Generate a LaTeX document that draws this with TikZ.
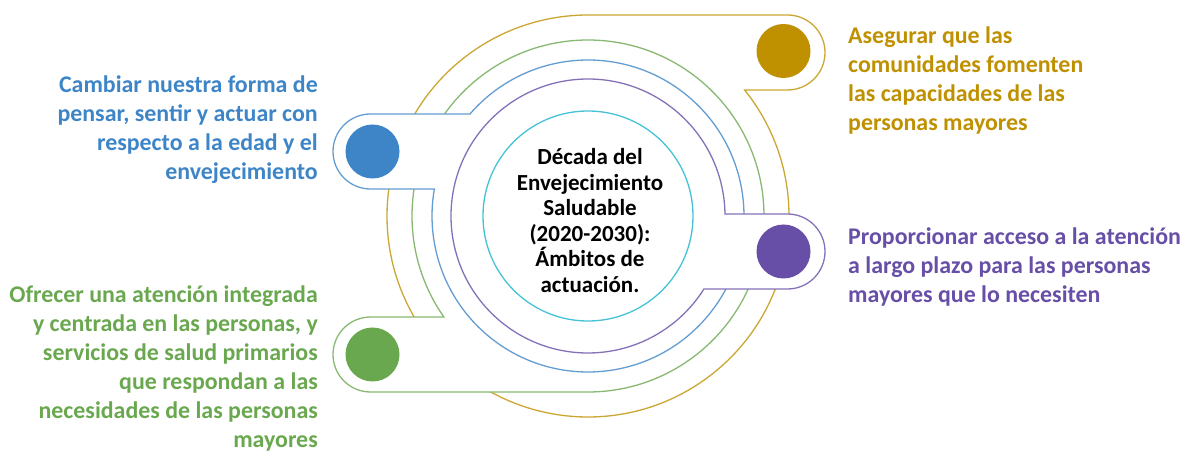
\documentclass[tikz,border=0pt]{standalone}
\usepackage{fontspec}
\setmainfont{Carlito}
\usepackage{tikz}
\usetikzlibrary{calc,positioning}

\definecolor{gold}{HTML}{BF9000}
\definecolor{blueish}{HTML}{3D85C6}
\definecolor{purpleish}{HTML}{674EA7}
\definecolor{greenish}{HTML}{6AA84F}
\definecolor{cyanish}{HTML}{45C3D6}

\begin{document}
\begin{tikzpicture}[x=1pt, y=1pt,
            ring/.style={line width=1.3pt, fill=white, line join=miter},
            dot/.style={circle, inner sep=0pt, minimum size=54pt},
            sidetext/.style={inner sep=0pt, font=\fontsize{23.9}{29}\selectfont\bfseries},
            hubtext/.style={inner sep=0pt, align=center, font=\fontsize{23}{25.5}\selectfont\bfseries}]
            \useasboundingbox (0,0) rectangle (1194,450);
            \coordinate (centre) at (588,234);

            \draw [ring, draw=gold!80] ($(centre)+(38.8:201)$) arc[start angle=38.8, end angle=-270, radius=201]
                -- (787.5,435) arc[start angle=90, end angle=-90, radius=37.5] -- cycle;
            \draw [ring, draw=greenish!80] ($(centre)+(-90:176)$) arc[start angle=-90, end angle=215.03, radius=176]
                -- (370.5,133) arc[start angle=90, end angle=270, radius=37.5] -- cycle;
            \draw [ring, draw=blueish!80] ($(centre)+(139.17:156)$) arc[start angle=139.17, end angle=-189.97, radius=156]
                -- (370.5,261) arc[start angle=270, end angle=90, radius=37.5] -- cycle;
            \draw [ring, draw=purpleish!80] ($(centre)+(0.84:137)$) arc[start angle=0.84, end angle=327.8, radius=137]
                -- (787.5,161) arc[start angle=-90, end angle=90, radius=37.5] -- cycle;
            \draw [ring, draw=cyanish] (centre) circle[radius=105];

            \node (golddot) [dot, fill=gold] at (783.5,399) {};
            \node (purpledot) [dot, fill=purpleish] at (783.5,198.5) {};
            \node (bluedot) [dot, fill=blueish] at (372.5,298.5) {};
            \node (greendot) [dot, fill=greenish] at (372.5,95.5) {};

            \node (hub) [hubtext] at (590,229.5) {Década del\\Envejecimiento\\Saludable\\(2020-2030):\\Ámbitos de\\actuación.};

            \node (goldtext) [sidetext, text=gold, align=left, anchor=west] at (848,370)
            {
                Asegurar que las\\comunidades fomenten\\las capacidades de las\\personas mayores
            };
            \node (purpletext) [sidetext, text=purpleish, align=left, anchor=west] at (848,183)
            {
                Proporcionar acceso a la atención\\a largo plazo para las personas\\mayores que lo necesiten
            };
            \node (bluetext) [sidetext, text=blueish, align=right, anchor=east] at (318,320.5)
            {
                Cambiar nuestra forma de\\pensar, sentir y actuar con\\respecto a la edad y el\\envejecimiento
            };
            \node (greentext) [sidetext, text=greenish, align=right, anchor=east] at (318,81.5)
            {
                Ofrecer una atención integrada\\y centrada en las personas, y\\servicios de salud primarios\\que respondan a las\\necesidades de las personas\\mayores
            };
        \end{tikzpicture}
\end{document}
